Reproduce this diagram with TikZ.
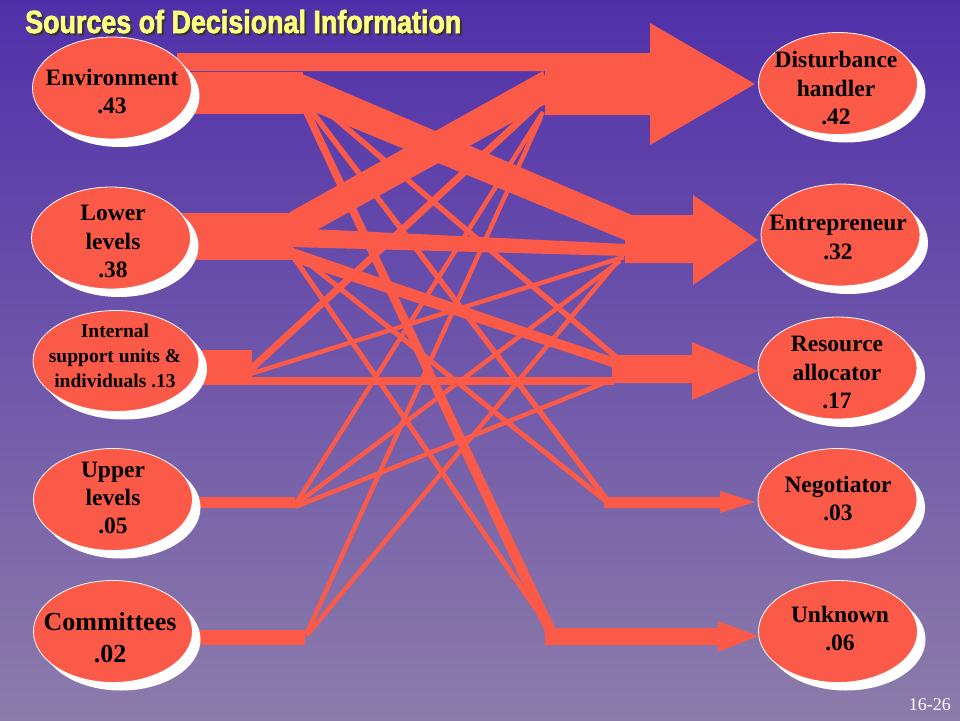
\documentclass[tikz,border=0pt]{standalone}
\usepackage{fontspec}
\setmainfont{Liberation Serif}
\newfontfamily\titlefont[FakeStretch=0.84,FakeBold=2]{Liberation Sans}
\usetikzlibrary{shapes.geometric,shadows}
\definecolor{coral}{RGB}{252,90,72}
\definecolor{bgtop}{RGB}{80,48,170}
\definecolor{bgbot}{RGB}{140,124,170}
\definecolor{ttlyellow}{RGB}{255,255,128}
\begin{document}
\begin{tikzpicture}[x=1pt,y=-1pt,
  flow/.style={draw=coral,line cap=butt},
  band/.style={fill=coral},
  cell/.style={ellipse,fill=coral,draw=white,line width=0.8pt,inner sep=0pt,
    minimum width=159pt,minimum height=102pt,
    general shadow={fill=white,shadow xshift=8pt,shadow yshift=-8pt}},
  lbl/.style={font=\bfseries\fontsize{23.5}{28.5}\selectfont,align=center,inner sep=0pt,text=black},
  ttlstyle/.style={anchor=base west,inner sep=0pt,font=\titlefont\bfseries\fontsize{32}{36}\selectfont},
]
\useasboundingbox (0,0) rectangle (960,720);
\shade[top color=bgtop,bottom color=bgbot] (0,0) rectangle (960,720);

% ---------- hub coordinates ----------
% sources
\coordinate (eR) at (310,97);   \coordinate (eN) at (307,105);
\coordinate (lN) at (292,250);  \coordinate (lU) at (290,252);
\coordinate (iD) at (250,370);  \coordinate (iE) at (250,374);  \coordinate (iR) at (250,381);
\coordinate (uD) at (295,505);  \coordinate (uE) at (295,505);  \coordinate (uR) at (295,507);
\coordinate (cD) at (306,635);  \coordinate (cE) at (307,635);
% targets
\coordinate (Der) at (537,105); \coordinate (Dup) at (543,112); \coordinate (Dco) at (541,117);
\coordinate (Ein) at (624,257); \coordinate (Eup) at (620,261); \coordinate (Eco) at (617,262);
\coordinate (Rin) at (614,381); \coordinate (Rup) at (614,379); \coordinate (Ren) at (616,357);
\coordinate (Nen) at (607,500); \coordinate (Nlo) at (607,502);
\coordinate (Ulo) at (552,632);

% ---------- arrows to roles ----------
\fill[band] (177,53) -- (650,53) -- (650,23) -- (755,84) -- (650,145) -- (650,115)
  -- (545,115) -- (545,71) -- (177,71) -- cycle;
\fill[band] (625,215) -- (693,215) -- (693,195) -- (758,240) -- (693,285) -- (693,263) -- (625,263) -- cycle;
\fill[band] (612,355) -- (692,355) -- (692,342) -- (758,371) -- (692,400) -- (692,383) -- (612,383) -- cycle;
\fill[band] (604,497) -- (720,497) -- (720,491) -- (755,502) -- (720,513) -- (720,508) -- (604,508) -- cycle;
\fill[band] (545,628) -- (718,628) -- (718,621) -- (758,636) -- (718,652) -- (718,645) -- (545,645) -- cycle;

% ---------- source blocks ----------
\fill[band] (150,72) rectangle (303,114);
\fill[band] (150,213) rectangle (293,260);
\fill[band] (150,350) rectangle (252,385);
\fill[band] (150,497) rectangle (295,508);
\fill[band] (150,630) rectangle (305,645);

% ---------- wide tapered flows ----------
\fill[band] (300,73) -- (632,215) -- (627,241) -- (300,106) -- cycle;   % E -> Entrepreneur
\fill[band] (290,212) -- (543,71) -- (553,100) -- (293,243) -- cycle;   % L -> Disturbance
\fill[band] (290,228) -- (626,244) -- (626,256) -- (290,247) -- cycle;  % L -> Entrepreneur
\fill[band] (293,248) -- (615,358) -- (615,368) -- (293,262) -- cycle;  % L -> Resource
\fill[band] (299,104) -- (307,104) -- (557,632) -- (545,632) -- cycle;  % E -> Unknown

% ---------- thin flows ----------
\draw[flow,line width=5.5pt] (eR) -- (Ren);
\draw[flow,line width=5.5pt] (eN) -- (Nen);
\draw[flow,line width=5pt] (lN) -- (Nlo);
\draw[flow,line width=5pt] (lU) -- (Ulo);
\draw[flow,line width=7pt] (iD) -- (Der);
\draw[flow,line width=4.5pt] (iE) -- (Ein);
\draw[flow,line width=8pt] (iR) -- (Rin);
\draw[flow,line width=4.5pt] (uD) -- (Dup);
\draw[flow,line width=4.5pt] (uE) -- (Eup);
\draw[flow,line width=4.5pt] (uR) -- (Rup);
\draw[flow,line width=4.5pt] (cD) -- (Dco);
\draw[flow,line width=4.5pt] (cE) -- (Eco);

% ---------- ellipses ----------
\node[cell] (env) at (112,88) {};
\node[cell] (low) at (111,238) {};
\node[cell,minimum width=166pt,minimum height=101pt] (isu) at (116,361) {};
\node[cell] (upp) at (113,499.5) {};
\node[cell] (com) at (113,631.5) {};
\node[cell] (dis) at (838,83.5) {};
\node[cell] (ent) at (840.5,235) {};
\node[cell] (res) at (837.5,368) {};
\node[cell] (neg) at (837.5,499.5) {};
\node[cell] (unk) at (838,631.5) {};

% ---------- labels ----------
\node[lbl] (envt) at (112,91.5) {Environment\\.43};
\node[lbl] (lowt) at (113,241.5) {Lower\\levels\\.38};
\node[lbl,font=\bfseries\fontsize{19.5}{25}\selectfont] (isut) at (115,355.4) {Internal\\support units \&\\individuals .13};
\node[lbl,font=\bfseries\fontsize{23.5}{28}\selectfont] (uppt) at (113,497.7) {Upper\\levels\\.05};
\node[lbl,font=\bfseries\fontsize{26}{32}\selectfont] (comt) at (110,637.2) {Committees\\.02};
\node[lbl] (dist) at (836,88.5) {Disturbance\\handler\\.42};
\node[lbl] (entt) at (838,237.5) {Entrepreneur\\.32};
\node[lbl] (rest) at (837,372.5) {Resource\\allocator\\.17};
\node[lbl] (negt) at (838,498.5) {Negotiator\\.03};
\node[lbl] (unkt) at (840,628.3) {Unknown\\.06};

% ---------- title and page number ----------
\node[ttlstyle,text=black!80] (ttlsh) at (27,35) {Sources of Decisional Information};
\node[ttlstyle,text=ttlyellow] (ttl) at (25,33) {Sources of Decisional Information};
\node[anchor=base east,inner sep=0pt,text=white,font=\fontsize{18}{20}\selectfont] (pg) at (951,710) {16-26};
\end{tikzpicture}
\end{document}
